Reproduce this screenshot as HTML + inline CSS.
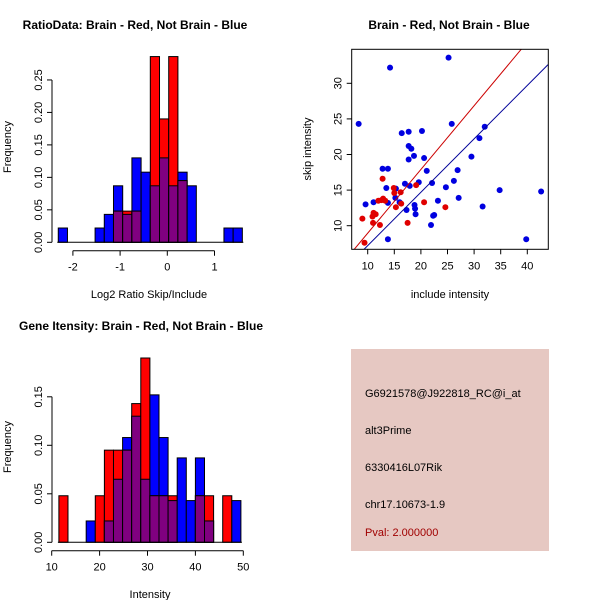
<!DOCTYPE html>
<html><head><meta charset="utf-8"><style>
html,body{margin:0;padding:0;background:#fff}
svg{display:block;font-family:"Liberation Sans",sans-serif}
</style></head><body>
<svg id="s" width="600" height="600" viewBox="0 0 600 600">
<rect width="600" height="600" fill="#fff"/>
<text x="135" y="29" text-anchor="middle" font-size="12" font-weight="bold">RatioData: Brain - Red, Not Brain - Blue</text>
<text x="449" y="29" text-anchor="middle" font-size="12" font-weight="bold">Brain - Red, Not Brain - Blue</text>
<text x="141" y="330" text-anchor="middle" font-size="12" font-weight="bold">Gene Itensity: Brain - Red, Not Brain - Blue</text>
<text x="149" y="298" text-anchor="middle" font-size="11">Log2 Ratio Skip/Include</text>
<text x="150" y="598" text-anchor="middle" font-size="11">Intensity</text>
<text x="450" y="298" text-anchor="middle" font-size="11">include intensity</text>
<text transform="translate(11,147) rotate(-90)" text-anchor="middle" font-size="11">Frequency</text>
<text transform="translate(11,447) rotate(-90)" text-anchor="middle" font-size="11">Frequency</text>
<text transform="translate(311,149) rotate(-90)" text-anchor="middle" font-size="11">skip intensity</text>
<g>
<rect x="351" y="349" width="198" height="202" fill="#e6c8c2"/>
<text x="365" y="397" font-size="11">G6921578@J922818_RC@i_at</text>
<text x="365" y="434" font-size="11">alt3Prime</text>
<text x="365" y="471" font-size="11">6330416L07Rik</text>
<text x="365" y="508" font-size="11">chr17.10673-1.9</text>
<text x="365" y="536" font-size="11" fill="#a00000">Pval: 2.000000</text>
</g>
<g id="h1"></g>
<g id="h2"></g>
<g id="sc"></g>
</svg>
<script>
const ratioBinStart = -2.31, ratioBinWidth = 0.195;
const ratioBlue = [0.022,0,0,0,0.022,0.043,0.087,0.043,0.13,0.108,0.087,0.13,0.087,0.108,0.087,0,0,0,0.022,0.022];
const ratioRed  = [0,0,0,0,0,0,0.048,0.048,0.048,0,0.286,0.19,0.286,0.095,0,0,0,0,0,0];
const ratioXTicks = [-2,-1,0,1];
const ratioYTicks = ["0.00","0.05","0.10","0.15","0.20","0.25"];
const intBinStart = 11.5, intBinWidth = 1.9;
const intBlue = [0,0,0,0.022,0,0.022,0.065,0.108,0.13,0.065,0.152,0.108,0.043,0.087,0.043,0.087,0.022,0,0,0.043];
const intRed  = [0.048,0,0,0,0.048,0.095,0.095,0.095,0.143,0.19,0.048,0.048,0.048,0,0,0.048,0.048,0,0.048,0];
const intXTicks = [10,20,30,40,50];
const intYTicks = ["0.00","0.05","0.10","0.15"];
const blueX = [8.3,14.2,25.2,9.6,11.1,12.8,13.8,13.5,13.8,13.8,15.3,15.2,16,16.4,17.7,17.7,18.2,17.7,18.7,17,17.9,17.3,18.8,18.9,19,19.6,20.2,20.6,21.1,22.1,21.9,22.3,22.5,23.2,24.7,25.8,26.2,26.9,27.1,29.5,31,32,31.6,34.8,39.8,42.6];
const blueY = [24.3,32.2,33.6,13,13.3,18,18,15.3,13.2,8.1,15.2,13.9,13.3,23,23.2,21.2,20.8,19.3,19.8,15.9,15.6,12.2,12.9,12.4,11.6,16.1,23.3,19.5,17.7,16,10.1,11.4,11.5,13.5,15.4,24.3,16.3,17.8,13.9,19.7,22.3,23.9,12.7,15,8.1,14.8];
const redX = [9,9.4,10.9,11,11.1,11.5,12,12.3,12.6,12.8,12.9,13.3,14.9,15,15.3,16.2,16.3,17.5,19.1,20.6,24.6];
const redY = [11,7.6,11.3,10.4,11.8,11.6,13.5,10.1,13.6,16.6,13.8,13.5,15.3,14.6,12.6,14.7,13.1,10.4,15.7,13.3,12.6];
const redFit = [0, 0.895];
const blueFit = [-0.3, 0.75];
const scXTicks = [10,15,20,25,30,35,40];
const scYTicks = [10,15,20,25,30];

const NS="http://www.w3.org/2000/svg";
function mk(p,tag,at){const e=document.createElementNS(NS,tag);for(const k in at)e.setAttribute(k,at[k]);p.appendChild(e);return e;}

function hist(g,bs,bw,blue,red,xt,yt,X,Y,axY){
  for(let i=0;i<blue.length;i++){
    const x0=X(bs+i*bw),x1=X(bs+(i+1)*bw);
    const b=blue[i],r=red[i];
    if(b>0){const e=mk(g,'rect',{x:x0,y:Y(b),width:x1-x0,height:Y(0)-Y(b),fill:'#0000ff',stroke:'#000','stroke-width':1});
      
      }
    if(r>0){const e=mk(g,'rect',{x:x0,y:Y(r),width:x1-x0,height:Y(0)-Y(r),fill:'#ff0000',stroke:'#000','stroke-width':1});
      
      }
    const m=Math.min(b,r);
    if(m>0){const e=mk(g,'rect',{x:x0,y:Y(m),width:x1-x0,height:Y(0)-Y(m),fill:'#800080',stroke:'#000','stroke-width':1});
      
      }
  }
  const base=mk(g,'line',{x1:X(bs)-1,x2:X(bs+blue.length*bw)+1,y1:Y(0),y2:Y(0),stroke:'#000'});
  
  
  const xa=mk(g,'line',{x1:X(xt[0]),x2:X(xt[xt.length-1]),y1:axY,y2:axY,stroke:'#000'});
  
  
  xt.forEach(v=>{mk(g,'line',{x1:X(v),x2:X(v),y1:axY,y2:axY+5,stroke:'#000'});
    const t=mk(g,'text',{x:X(v),y:axY+20,'text-anchor':'middle','font-size':11});t.textContent=v;
    
    });
  const ax=52;
  const ya=mk(g,'line',{x1:ax,x2:ax,y1:Y(0),y2:Y(parseFloat(yt[yt.length-1])),stroke:'#000'});
  
  
  yt.forEach(s=>{const v=parseFloat(s);mk(g,'line',{x1:ax-5,x2:ax,y1:Y(v),y2:Y(v),stroke:'#000'});
    const t=mk(g,'text',{transform:`translate(${ax-10},${Y(v)}) rotate(-90)`,'text-anchor':'middle','font-size':11});t.textContent=s;
    
    });
}
hist(document.getElementById('h1'),ratioBinStart,ratioBinWidth,ratioBlue,ratioRed,ratioXTicks,ratioYTicks,
  v=>167.3+v*47.2, v=>242.3-v/0.05*32.47, 250.7);
hist(document.getElementById('h2'),intBinStart,intBinWidth,intBlue,intRed,intXTicks,intYTicks,
  v=>51.7+(v-10)*4.79, v=>542.3-v/0.05*48.5, 550.7);

(function(){
  const g=document.getElementById('sc');
  const L=351.7,R=548.3,T=49.3,B=249.3;
  const X=v=>367.7+(v-10)*5.32, Y=v=>225.7-(v-10)*7.12;
  const xmin=7.0,xmax=43.9;
  const cp=mk(g,'clipPath',{id:'clipbox'});mk(cp,'rect',{x:L,y:T,width:R-L,height:B-T});
  function fit(f,col,name){
    const x0=xmin,x1=xmax;
    const l=mk(g,'line',{x1:X(x0),y1:Y(f[0]+f[1]*x0),x2:X(x1),y2:Y(f[0]+f[1]*x1),stroke:col,'stroke-width':1,'clip-path':'url(#clipbox)'});
    
    
  }
  blueX.forEach((x,i)=>{const c=mk(g,'circle',{cx:X(x),cy:Y(blueY[i]),r:3,fill:'#0000e0'});
    
    });
  redX.forEach((x,i)=>{const c=mk(g,'circle',{cx:X(x),cy:Y(redY[i]),r:3,fill:'#e00000'});
    
    });
  fit(redFit,'#cc0000','red-fit-line');
  fit(blueFit,'#000099','blue-fit-line');
  const bx=mk(g,'rect',{x:L,y:T,width:R-L,height:B-T,fill:'none',stroke:'#000'});
  
  
  scXTicks.forEach(v=>{mk(g,'line',{x1:X(v),x2:X(v),y1:B,y2:B+5,stroke:'#000'});
    const t=mk(g,'text',{x:X(v),y:B+20,'text-anchor':'middle','font-size':11});t.textContent=v;
    
    });
  scYTicks.forEach(v=>{mk(g,'line',{x1:L-5,x2:L,y1:Y(v),y2:Y(v),stroke:'#000'});
    const t=mk(g,'text',{transform:`translate(${L-10},${Y(v)}) rotate(-90)`,'text-anchor':'middle','font-size':11});t.textContent=v;
    
    });
})();
</script>
</body></html>
